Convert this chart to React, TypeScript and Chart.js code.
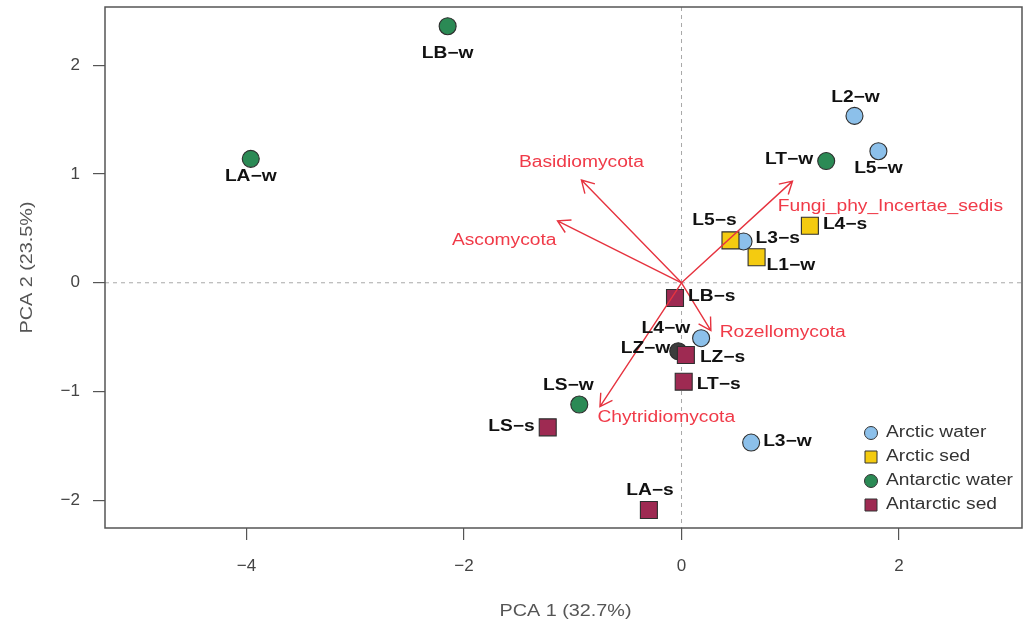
import React, { useEffect, useRef } from 'react';
import { Chart, registerables } from 'chart.js';

Chart.register(...registerables);

// ---------- data ----------
const sampleNames = ['LB-w', 'LA-w', 'L2-w', 'L5-w', 'LT-w', 'L4-s', 'L5-s', 'L3-s', 'L1-w', 'LB-s', 'L4-w', 'LZ-w', 'LZ-s', 'LT-s', 'LS-w', 'LS-s', 'L3-w', 'LA-s'];
const pc1 = [-2.15, -3.96, 1.59, 1.81, 1.33, 1.18, 0.45, 0.57, 0.69, -0.06, 0.18, -0.03, 0.04, 0.02, -0.94, -1.23, 0.64, -0.3];
const pc2 = [2.36, 1.14, 1.535, 1.21, 1.12, 0.525, 0.39, 0.38, 0.235, -0.14, -0.51, -0.63, -0.665, -0.91, -1.12, -1.33, -1.47, -2.09];
const sampleGroups = ['Antarctic water', 'Antarctic water', 'Arctic water', 'Arctic water', 'Antarctic water', 'Arctic sed', 'Arctic sed', 'Arctic water', 'Arctic sed', 'Antarctic sed', 'Arctic water', 'Antarctic water', 'Antarctic sed', 'Antarctic sed', 'Antarctic water', 'Antarctic sed', 'Arctic water', 'Antarctic sed'];
const groupNames = ['Arctic water', 'Arctic sed', 'Antarctic water', 'Antarctic sed'];

const taxa = ['Basidiomycota', 'Ascomycota', 'Fungi_phy_Incertae_sedis', 'Rozellomycota', 'Chytridiomycota'];
const loading1 = [-0.92, -1.14, 1.02, 0.27, -0.75];
const loading2 = [0.945, 0.57, 0.935, -0.44, -1.14];
const taxaLabel1 = [-0.92, -1.63, 1.92, 0.93, -0.14];
const taxaLabel2 = [1.11, 0.39, 0.7, -0.46, -1.24];

const xTicks = [-4, -2, 0, 2];
const yTicks = [-2, -1, 0, 1, 2];
const xTitle = 'PCA 1 (32.7%)';
const yTitle = 'PCA 2 (23.5%)';

// ---------- styles / layout ----------
const FONT = "'Liberation Sans', Arial, Helvetica, sans-serif";
const SX = 1.2; // horizontal text stretch
const groupStyle: Record<string, { color: string; shape: string; radius: number }> = {
  'Arctic water': { color: '#8cc0ea', shape: 'circle', radius: 8.5 },
  'Arctic sed': { color: '#f4cb10', shape: 'rect', radius: 12 },
  'Antarctic water': { color: '#2b8a55', shape: 'circle', radius: 8.5 },
  'Antarctic sed': { color: '#9e2a52', shape: 'rect', radius: 12 },
};
const specialFill: Record<string, string> = { 'LZ-w': '#3c3c3c' };
// label placement relative to marker (px): dx, dy, align
const labelPlacement: Record<string, [number, number, CanvasTextAlign]> = {
  'LB-w': [0, 27, 'center'],
  'LA-w': [0, 18, 'center'],
  'L2-w': [1, -18, 'center'],
  'L5-w': [0, 17, 'center'],
  'LT-w': [-13, -1, 'right'],
  'L4-s': [13, -1, 'left'],
  'L5-s': [-16, -20, 'center'],
  'L3-s': [12, -3, 'left'],
  'L1-w': [10, 8, 'left'],
  'LB-s': [13, -1, 'left'],
  'L4-w': [-11, -10, 'right'],
  'LZ-w': [-8, -3, 'right'],
  'LZ-s': [14, 3, 'left'],
  'LT-s': [13, 3, 'left'],
  'LS-w': [-11, -19, 'center'],
  'LS-s': [-13, -1, 'right'],
  'L3-w': [12, -1, 'left'],
  'LA-s': [1, -19, 'center'],
};
const ARROW_COLOR = '#e6333f';
const ARROW_TEXT = '#f03a48';

function drawText(ctx: CanvasRenderingContext2D, text: string, x: number, y: number, align: CanvasTextAlign, font: string, color: string, rotate = 0) {
  ctx.save();
  ctx.font = font;
  ctx.fillStyle = color;
  ctx.textBaseline = 'middle';
  ctx.textAlign = align;
  ctx.translate(x, y);
  if (rotate) ctx.rotate(rotate);
  ctx.scale(SX, 1);
  ctx.fillText(text, 0, 0);
  ctx.restore();
}

const pcaPlugin = {
  id: 'pcaDecor',
  beforeDatasetsDraw(chart: any) {
    const { ctx, chartArea: a, scales } = chart;
    const x0 = scales.x.getPixelForValue(0);
    const y0 = scales.y.getPixelForValue(0);
    ctx.save();
    ctx.strokeStyle = '#a8a8a8';
    ctx.lineWidth = 1;
    ctx.setLineDash([4, 4]);
    ctx.beginPath();
    ctx.moveTo(x0, a.top);
    ctx.lineTo(x0, a.bottom);
    ctx.moveTo(a.left, y0);
    ctx.lineTo(a.right, y0);
    ctx.stroke();
    ctx.restore();
  },
  afterDatasetsDraw(chart: any) {
    const { ctx, chartArea: a, scales } = chart;
    const sx = scales.x, sy = scales.y;
    const ox = sx.getPixelForValue(0), oy = sy.getPixelForValue(0);
    // arrows
    ctx.save();
    ctx.strokeStyle = ARROW_COLOR;
    ctx.lineWidth = 1.4;
    for (let i = 0; i < taxa.length; i++) {
      const tx = sx.getPixelForValue(loading1[i]);
      const ty = sy.getPixelForValue(loading2[i]);
      const ang = Math.atan2(ty - oy, tx - ox);
      const L = 14, sp = Math.PI / 6;
      ctx.beginPath();
      ctx.moveTo(ox, oy);
      ctx.lineTo(tx, ty);
      ctx.moveTo(tx - L * Math.cos(ang - sp), ty - L * Math.sin(ang - sp));
      ctx.lineTo(tx, ty);
      ctx.lineTo(tx - L * Math.cos(ang + sp), ty - L * Math.sin(ang + sp));
      ctx.stroke();
    }
    ctx.restore();
    for (let i = 0; i < taxa.length; i++) {
      drawText(ctx, taxa[i], sx.getPixelForValue(taxaLabel1[i]), sy.getPixelForValue(taxaLabel2[i]), 'center', `16px ${FONT}`, ARROW_TEXT);
    }
    // sample labels
    for (let i = 0; i < sampleNames.length; i++) {
      const p = labelPlacement[sampleNames[i]];
      const px = sx.getPixelForValue(pc1[i]);
      const py = sy.getPixelForValue(pc2[i]);
      drawText(ctx, sampleNames[i].replace('-', '\u2212'), px + p[0], py + p[1], p[2], `bold 16px ${FONT}`, '#111');
    }
    // legend
    const lx = a.right - 151;
    const ly = a.bottom - 95;
    groupNames.forEach((g, k) => {
      const st = groupStyle[g];
      const cy = ly + k * 24;
      ctx.save();
      ctx.fillStyle = st.color;
      ctx.strokeStyle = '#333';
      ctx.lineWidth = 1;
      ctx.beginPath();
      if (st.shape === 'circle') ctx.arc(lx, cy, 6.5, 0, Math.PI * 2);
      else ctx.rect(lx - 6, cy - 6, 12, 12);
      ctx.fill();
      ctx.stroke();
      ctx.restore();
      drawText(ctx, g, lx + 15, cy, 'left', `16px ${FONT}`, '#333');
    });
  },
  afterDraw(chart: any) {
    const { ctx, chartArea: a } = chart;
    ctx.save();
    ctx.strokeStyle = '#555';
    ctx.lineWidth = 1.5;
    ctx.strokeRect(a.left, a.top, a.right - a.left, a.bottom - a.top);
    ctx.restore();
    // axis titles
    drawText(ctx, xTitle, (a.left + a.right) / 2 + 2, 611, 'center', `16.5px ${FONT}`, '#555');
    drawText(ctx, yTitle, 27, (a.top + a.bottom) / 2, 'center', `16.5px ${FONT}`, '#555', -Math.PI / 2);
  },
};

function noPad(s: any) {
  s.paddingTop = 0;
  s.paddingBottom = 0;
  s.paddingLeft = 0;
  s.paddingRight = 0;
}

export default function App() {
  const ref = useRef<HTMLCanvasElement | null>(null);
  useEffect(() => {
    document.body.style.margin = '0';
    document.body.style.overflow = 'hidden';
    const canvas = ref.current!;
    const datasets = [...groupNames].reverse().map((g) => {
      const st = groupStyle[g];
      const pts = sampleNames
        .map((n, i) => ({ x: pc1[i], y: pc2[i], name: n, group: sampleGroups[i] }))
        .filter((d) => d.group === g);
      return {
        label: g,
        data: pts,
        pointStyle: st.shape,
        pointRadius: st.radius,
        pointBackgroundColor: (c: any) => {
          const d = c.raw as any;
          return d && specialFill[d.name] ? specialFill[d.name] : st.color;
        },
        pointBorderColor: '#2e2e2e',
        pointBorderWidth: 1.1,
        showLine: false,
      };
    });
    const tickFont = { family: FONT, size: 17 };
    const chart = new Chart(canvas, {
      type: 'scatter',
      data: { datasets: datasets as any },
      options: {
        animation: false,
        responsive: false,
        devicePixelRatio: 1,
        events: [],
        layout: { autoPadding: false, padding: { top: 7, right: 4, left: 0, bottom: 0 } },
        plugins: { legend: { display: false }, tooltip: { enabled: false } },
        scales: {
          x: {
            type: 'linear',
            min: -5.3,
            max: 3.13,
            afterBuildTicks: (s: any) => { s.ticks = xTicks.map((v) => ({ value: v })); },
            afterFit: (s: any) => { s.height = 99; noPad(s); },
            grid: { drawOnChartArea: false, drawTicks: true, tickLength: 12, color: '#555', lineWidth: 1.2 },
            border: { display: false },
            ticks: {
              padding: 16,
              font: tickFont,
              color: '#444',
              maxRotation: 0,
              autoSkip: false,
              callback: (v: any) => String(v).replace('-', '\u2212'),
            },
          },
          y: {
            type: 'linear',
            min: -2.256,
            max: 2.537,
            afterBuildTicks: (s: any) => { s.ticks = yTicks.map((v) => ({ value: v })); },
            afterFit: (s: any) => { s.width = 105; noPad(s); },
            grid: { drawOnChartArea: false, drawTicks: true, tickLength: 12, color: '#555', lineWidth: 1.2 },
            border: { display: false },
            ticks: {
              padding: 13,
              font: tickFont,
              color: '#444',
              autoSkip: false,
              callback: (v: any) => String(v).replace('-', '\u2212'),
            },
          },
        },
      },
      plugins: [pcaPlugin],
    });
    return () => chart.destroy();
  }, []);
  return (
    <canvas ref={ref} width={1026} height={627} style={{ display: 'block', width: '1026px', height: '627px' }} />
  );
}
